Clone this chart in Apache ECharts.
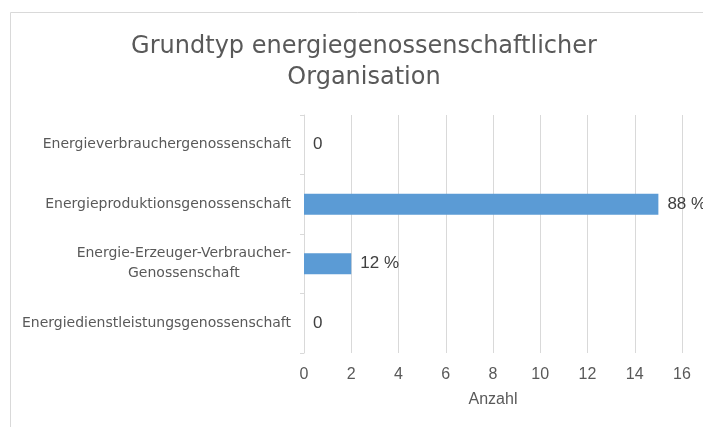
<!DOCTYPE html>
<html><head><meta charset="utf-8">
<script src="https://cdn.jsdelivr.net/npm/echarts@6/dist/echarts.min.js"></script>
<style>html,body{margin:0;padding:0;background:#fff}#c{width:703px;height:427px}</style>
</head><body><div id="c"></div>
<script>
var titleText = "Grundtyp energiegenossenschaftlicher\nOrganisation";
var categories = ["Energieverbrauchergenossenschaft","Energieproduktionsgenossenschaft","Energie-Erzeuger-Verbraucher-\nGenossenschaft","Energiedienstleistungsgenossenschaft"];
var values = [0, 15, 2, 0];
var valueLabels = ["0", "88 %", "12 %", "0"];
var xTicks = {min: 0, max: 16, interval: 2};
var xName = "Anzahl";

var WIDE = "DejaVu Sans, sans-serif";
var REG = "Liberation Sans, Arial, sans-serif";
var chart = echarts.init(document.getElementById('c'));
chart.setOption({
  animation: false,
  textStyle: {fontFamily: REG},
  graphic: [{type: 'rect', shape: {x: 10.5, y: 12.5, width: 900, height: 600}, style: {fill: 'none', stroke: '#d9d9d9', lineWidth: 1}, silent: true}],
  title: {
    text: titleText, left: 359, top: 26, textAlign: 'center',
    textStyle: {fontSize: 24, fontWeight: 'normal', color: '#595959', lineHeight: 31, fontFamily: WIDE}
  },
  grid: {left: 304, right: 21, top: 115, bottom: 74},
  xAxis: {
    type: 'value', min: xTicks.min, max: xTicks.max, interval: xTicks.interval,
    name: xName, nameLocation: 'middle', nameGap: 39,
    nameTextStyle: {fontSize: 16, color: '#595959', fontFamily: REG},
    axisLine: {show: false}, axisTick: {show: false},
    axisLabel: {fontSize: 16, color: '#595959', margin: 14, fontFamily: REG},
    splitLine: {lineStyle: {color: '#d9d9d9', width: 1}}
  },
  yAxis: {
    type: 'category', data: categories, inverse: true,
    axisLine: {lineStyle: {color: '#d9d9d9'}},
    axisTick: {show: true, length: 4, lineStyle: {color: '#d9d9d9'}},
    axisLabel: {
      fontSize: 14, color: '#595959', margin: 13, lineHeight: 20, fontFamily: WIDE,
      formatter: function (v) { return '{c|' + v.split('\n').join('}\n{c|') + '}'; },
      rich: {c: {align: 'center', fontSize: 14, color: '#595959', lineHeight: 20, fontFamily: WIDE}}
    }
  },
  series: [{
    type: 'bar', data: values, barWidth: 21,
    itemStyle: {color: '#5b9bd5'},
    label: {
      show: true, position: 'right', distance: 9, fontSize: 17, color: '#404040', fontFamily: REG,
      formatter: function (p) { return valueLabels[p.dataIndex]; }
    }
  }]
});
</script></body></html>
